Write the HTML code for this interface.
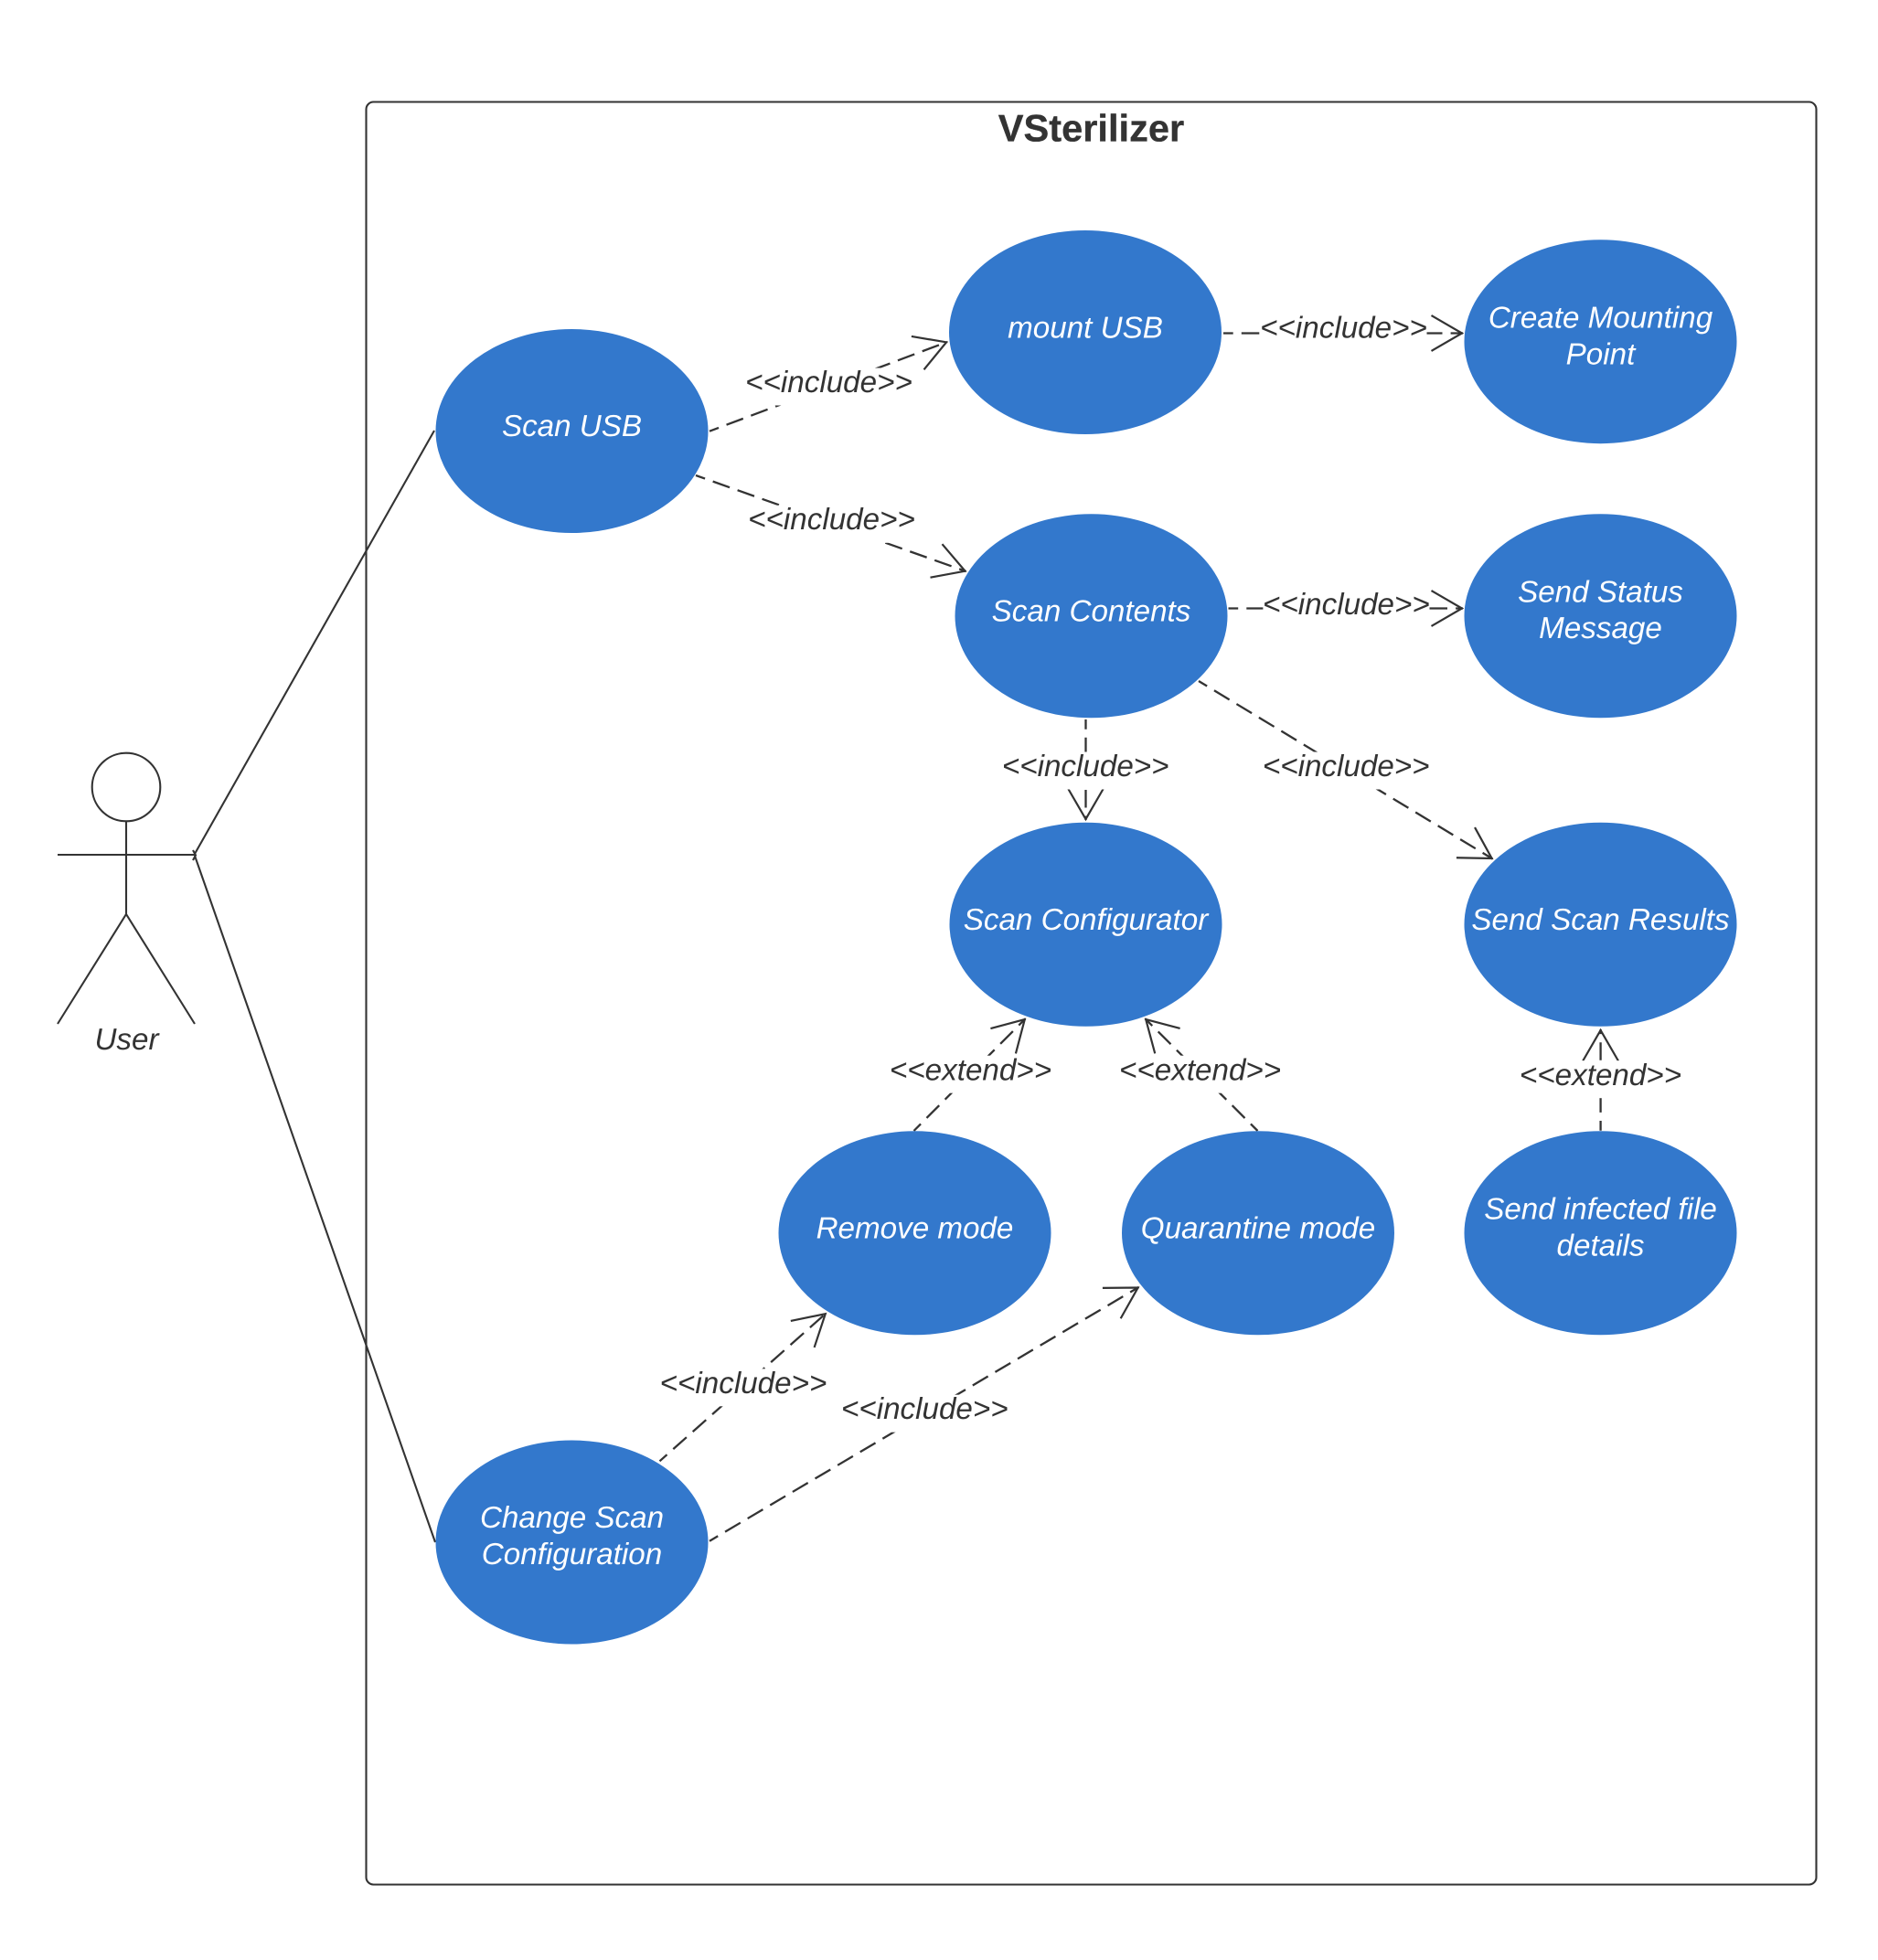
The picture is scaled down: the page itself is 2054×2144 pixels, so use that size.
<!DOCTYPE html>
<html>
<head>
<meta charset="utf-8">
<title>VSterilizer</title>
<style>
html,body{margin:0;padding:0;background:#fff;width:2054px;height:2144px;overflow:hidden}
svg{display:block}
text{font-family:"Liberation Sans",sans-serif;text-rendering:geometricPrecision}
.u{font-style:italic;font-size:33.2px;fill:#fff;text-anchor:middle}
.l{font-style:italic;font-size:33.2px;fill:#333;text-anchor:middle}
.d{fill:none;stroke:#333;stroke-width:2.3;stroke-dasharray:19.5 9.1;stroke-dashoffset:8.8;marker-end:url(#h)}
.s{fill:none;stroke:#333;stroke-width:2.1}
.e{fill:#3378cc}
</style>
</head>
<body>
<svg xmlns="http://www.w3.org/2000/svg" width="2054" height="2144" viewBox="0 0 2054 2144">
<defs>
<marker id="h" markerUnits="userSpaceOnUse" orient="auto" refX="0" refY="0" markerWidth="1" markerHeight="1" style="overflow:visible">
<path d="M-34.5,-19.4L-1,0L-34.5,19.4" fill="none" stroke="#333" stroke-width="2.2" stroke-dasharray="none"/>
</marker>
</defs>

<rect x="400.5" y="111.5" width="1586" height="1950" rx="8" ry="8" class="s"/>
<text x="1193.5" y="154.3" text-anchor="middle" font-size="41.6" font-weight="bold" fill="#333" stroke="#333" stroke-width="0.3">VSterilizer</text>

<!-- actor -->
<circle cx="138" cy="861" r="37.3" class="s"/>
<path d="M138,898V1000M63,935H213M63,1120L138,1000L213,1120" class="s"/>
<path d="M211,930L214,935.5L211,941" class="s"/>
<text x="138.5" y="1148" class="l">User</text>

<!-- actor associations -->
<path d="M213,934L475,471" class="s"/>
<path d="M213,936L476,1687" class="s"/>

<!-- dashed connectors -->
<path d="M776,471.7L1036,374" class="d"/>
<path d="M761,520L1056.5,625" class="d"/>
<path d="M1338,364.5H1600" class="d"/>
<path d="M1343.5,665.5H1600" class="d"/>
<path d="M1187.5,787V897" class="d"/>
<path d="M1311,745L1632.5,939.5" class="d"/>
<path d="M999.5,1237L1121.5,1114.3" class="d"/>
<path d="M1375.5,1237L1252.5,1114.3" class="d"/>
<path d="M1750.6,1236.7V1126" class="d"/>
<path d="M721.5,1598.3L903.5,1436.5" class="d"/>
<path d="M776,1685.7L1245.5,1408" class="d"/>

<!-- label backgrounds -->
<g fill="#fff">
<rect x="815" y="402.5" width="183" height="41"/>
<rect x="818.3" y="552.8" width="183" height="41"/>
<rect x="1378.5" y="342.8" width="182" height="41"/>
<rect x="1381.4" y="645.5" width="182" height="41"/>
<rect x="1096" y="822.5" width="183" height="41"/>
<rect x="1381" y="822.5" width="183" height="41"/>
<rect x="973" y="1154.7" width="177" height="41"/>
<rect x="1224.1" y="1154.7" width="177" height="41"/>
<rect x="1662" y="1160.2" width="177" height="41"/>
<rect x="721.3" y="1497.3" width="183" height="41"/>
<rect x="919.7" y="1525.7" width="183" height="41"/>
</g>

<!-- label text -->
<text x="906.5" y="429" class="l">&lt;&lt;include&gt;&gt;</text>
<text x="909.5" y="579" class="l">&lt;&lt;include&gt;&gt;</text>
<text x="1469.5" y="369.5" class="l">&lt;&lt;include&gt;&gt;</text>
<text x="1472.4" y="672" class="l">&lt;&lt;include&gt;&gt;</text>
<text x="1187.2" y="849" class="l">&lt;&lt;include&gt;&gt;</text>
<text x="1472.2" y="849" class="l">&lt;&lt;include&gt;&gt;</text>
<text x="1061.5" y="1181.5" class="l">&lt;&lt;extend&gt;&gt;</text>
<text x="1312.6" y="1181.5" class="l">&lt;&lt;extend&gt;&gt;</text>
<text x="1750.5" y="1187" class="l">&lt;&lt;extend&gt;&gt;</text>
<text x="813" y="1524" class="l">&lt;&lt;include&gt;&gt;</text>
<text x="1011.3" y="1552.2" class="l">&lt;&lt;include&gt;&gt;</text>

<!-- use cases -->
<ellipse class="e" cx="625.5" cy="471.5" rx="149" ry="111.5"/>
<text x="625.5" y="477" class="u">Scan USB</text>

<ellipse class="e" cx="1187" cy="363.5" rx="149" ry="111.5"/>
<text x="1187" y="369.3" class="u">mount USB</text>

<ellipse class="e" cx="1750.5" cy="373.7" rx="149" ry="111.5"/>
<text x="1750.5" y="358.3" class="u">Create Mounting</text>
<text x="1750.5" y="398.3" class="u">Point</text>

<ellipse class="e" cx="1193.5" cy="673.8" rx="149" ry="111.5"/>
<text x="1193.5" y="679.3" class="u">Scan Contents</text>

<ellipse class="e" cx="1750.5" cy="673.8" rx="149" ry="111.5"/>
<text x="1750.5" y="658.3" class="u">Send Status</text>
<text x="1750.5" y="697.8" class="u">Message</text>

<ellipse class="e" cx="1187.5" cy="1011.3" rx="149" ry="111.5"/>
<text x="1187.5" y="1017" class="u">Scan Configurator</text>

<ellipse class="e" cx="1750.5" cy="1011.3" rx="149" ry="111.5"/>
<text x="1750.5" y="1017" class="u">Send Scan Results</text>

<ellipse class="e" cx="1000.5" cy="1348.8" rx="149" ry="111.5"/>
<text x="1000.5" y="1354.5" class="u">Remove mode</text>

<ellipse class="e" cx="1376" cy="1348.8" rx="149" ry="111.5"/>
<text x="1376" y="1354.5" class="u">Quarantine mode</text>

<ellipse class="e" cx="1750.5" cy="1348.8" rx="149" ry="111.5"/>
<text x="1750.5" y="1333.3" class="u">Send infected file</text>
<text x="1750.5" y="1373.3" class="u">details</text>

<ellipse class="e" cx="625.5" cy="1687" rx="149" ry="111.5"/>
<text x="625.5" y="1671" class="u">Change Scan</text>
<text x="625.5" y="1711" class="u">Configuration</text>
</svg>
</body>
</html>
